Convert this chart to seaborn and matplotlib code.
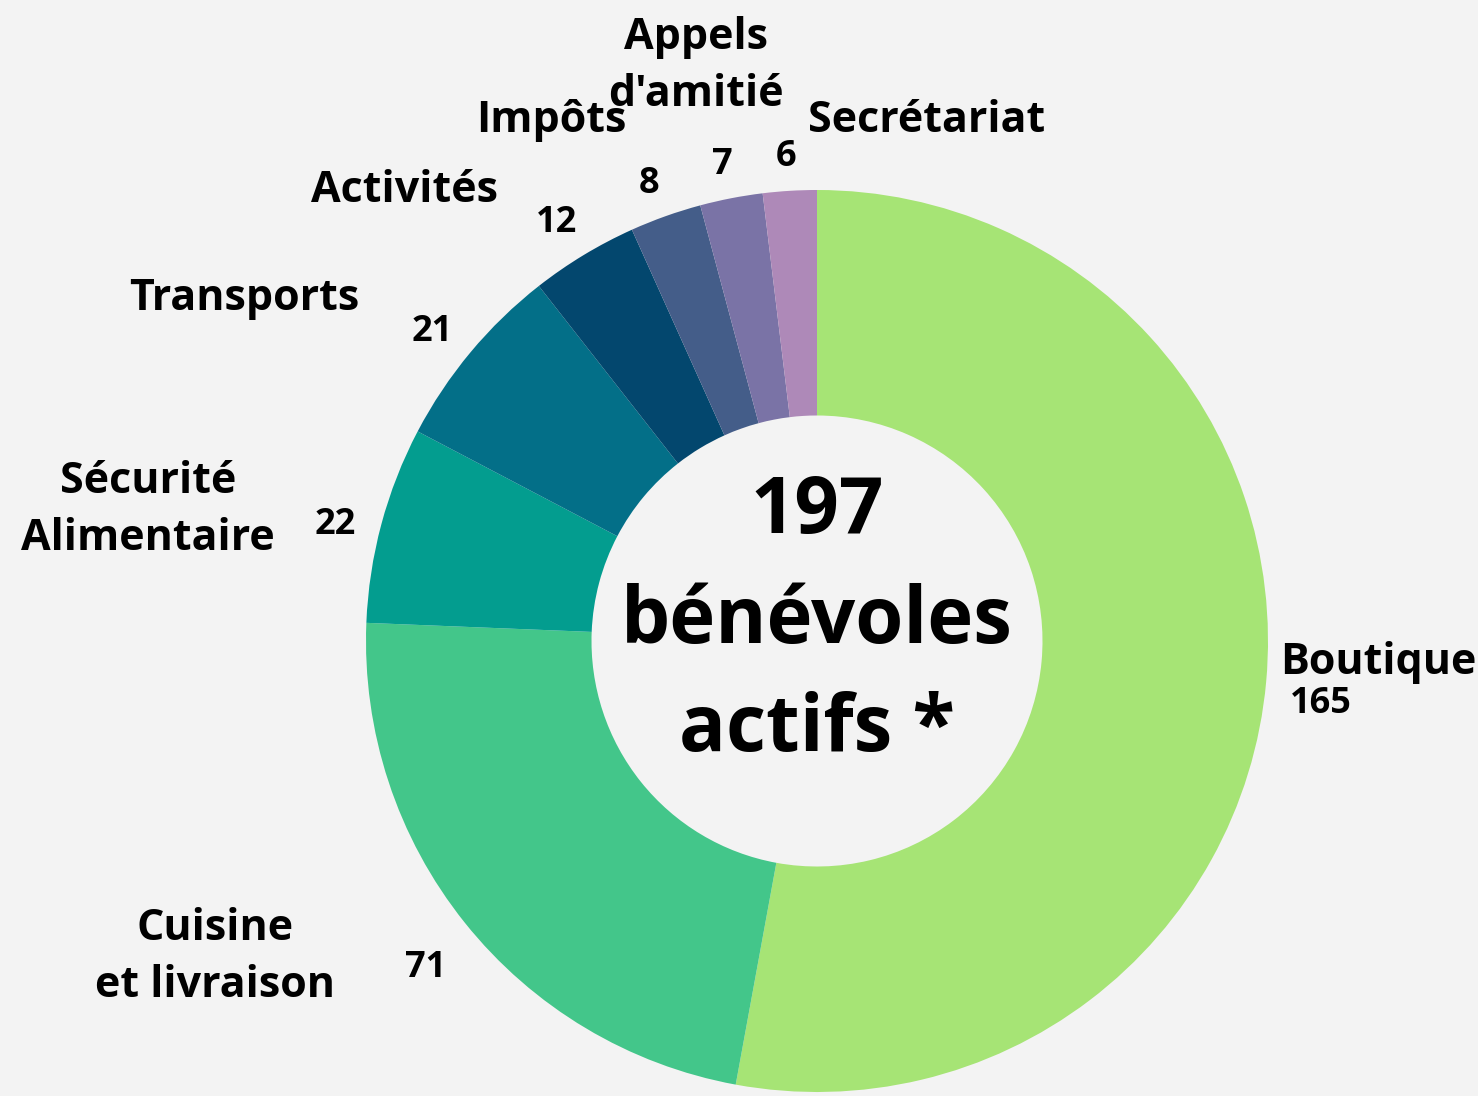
import matplotlib
matplotlib.use("Agg")
import matplotlib.pyplot as plt
import seaborn as sns

#%% data
categories = ["Boutique", "Cuisine\net livraison", "Sécurité\nAlimentaire", "Transports",
              "Activités", "Impôts", "Appels\nd'amitié", "Secrétariat"]
volunteers = [165, 71, 22, 21, 12, 8, 7, 6]
total_active = 197
colors = ["#a6e475", "#43c68a", "#039d8f", "#036f88", "#03476e", "#445d89", "#7a73a6", "#ae89b8"]

# label placement, in pixels of the 1478x1096 picture (name centre, number centre)
name_pos = [(1378, 662), (215, 957), (148, 510), (244, 298), (404, 190), (551, 120), (696, 66), (927, 120)]
num_pos = [(1321, 704), (426, 968), (335, 525), (432, 332), (557, 223), (649, 184), (722, 165), (786, 157)]

#%% style
sns.set_theme(style="white")
plt.rcParams['font.family'] = ['Open Sans', 'DejaVu Sans']
plt.rcParams['text.color'] = 'black'
bg = "#f3f3f3"

W, H = 1478, 1096
cx, cy, R = 817, 641, 451


def px(x, y):
    return (x - cx) / R, (cy - y) / R


fig = plt.figure(figsize=(W / 100, H / 100), dpi=100, facecolor=bg)
ax = fig.add_axes([0, 0, 1, 1])
ax.set_facecolor(bg)

ax.pie(volunteers, colors=sns.color_palette(colors), startangle=90, counterclock=False,
       radius=1, wedgeprops=dict(width=0.5, linewidth=0))

for name, n, p1, p2 in zip(categories, volunteers, name_pos, num_pos):
    ax.text(*px(*p1), name, ha='center', va='center', fontsize=31, fontweight='bold',
            linespacing=1.4, color='black')
    ax.text(*px(*p2), str(n), ha='center', va='center', fontsize=26, fontweight='bold',
            color='black')

ax.text(*px(817, 622), f"{total_active}\nbénévoles\nactifs *", ha='center', va='center',
        fontsize=56, fontweight='bold', linespacing=1.5, color='black')

ax.set_xlim(-cx / R, (W - cx) / R)
ax.set_ylim((cy - H) / R, cy / R)
ax.set_aspect('auto')
ax.axis('off')

plt.savefig("out.png", dpi=100, facecolor=bg)
